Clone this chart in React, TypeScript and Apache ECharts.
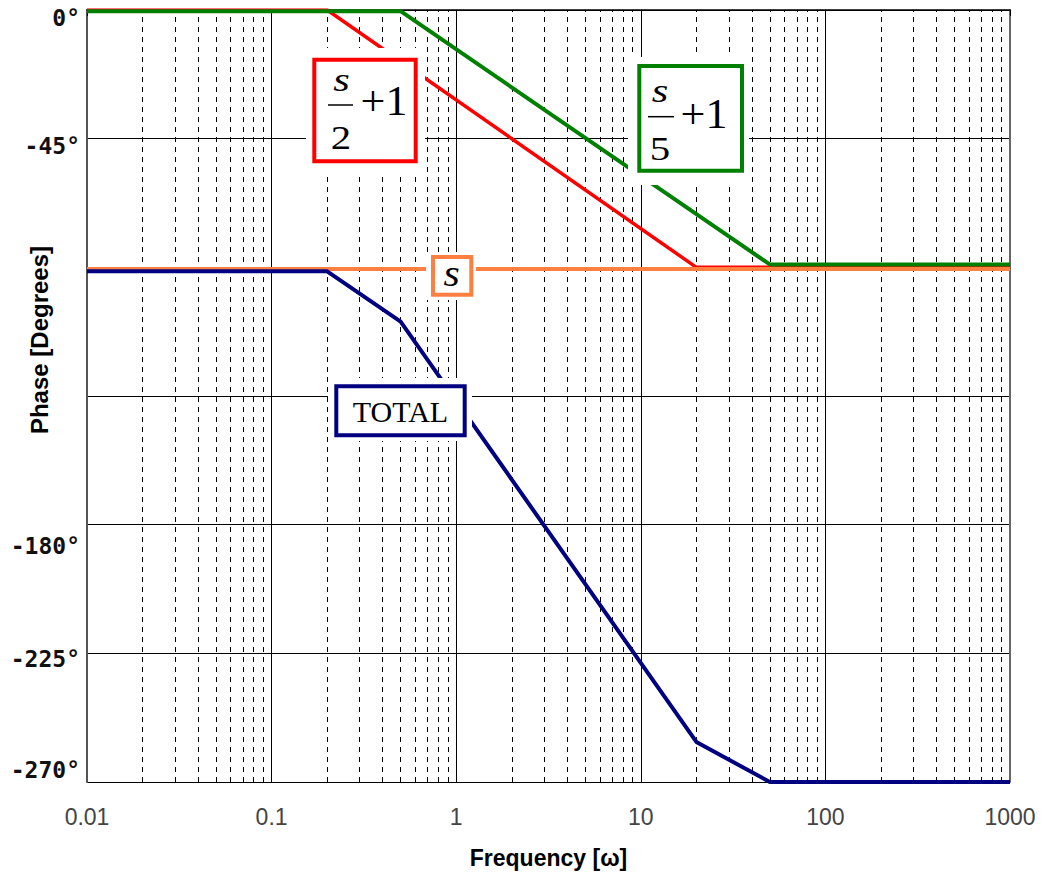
import React, { useEffect, useRef } from "react";
import * as echarts from "echarts";

// ---- data ----
const xTickValues = [0.01, 0.1, 1, 10, 100, 1000];
const xTickLabels = ["0.01", "0.1", "1", "10", "100", "1000"];
const yTickValues = [0, -45, -180, -225, -270];
const yTickLabels = ["0°", "-45°", "-180°", "-225°", "-270°"];
const minorDecades = [0.01, 0.1, 1, 10, 100];
const minorMultipliers = [2, 3, 4, 5, 6, 7, 8, 9];

const redFreq = [0.01, 0.2, 20, 1000];
const redPhase = [0, 0, -90, -90];
const greenFreq = [0.01, 0.5, 50, 1000];
const greenPhase = [-0.4, -0.4, -89, -89];
const orangeFreq = [0.01, 1000];
const orangePhase = [-90.6, -90.6];
const totalFreq = [0.01, 0.2, 0.5, 20, 50, 1000];
const totalPhase = [-91.4, -91.4, -109, -256, -270, -270];

// label vertical shifts (style)
const yLabelShift = [8, 7.5, 21.5, 6, -12];

const zip = (xs: number[], ys: number[]) => xs.map((x, i) => [x, ys[i]]);
const same = (a: number, b: number) => Math.abs(Math.log10(a) - Math.log10(b)) < 1e-6;

export default function App() {
  const ref = useRef<HTMLDivElement>(null);
  useEffect(() => {
    if (!ref.current) return;
    const chart = echarts.init(ref.current, null, { renderer: "svg" });
    const minorLines: any[] = [];
    minorDecades.forEach((d) => minorMultipliers.forEach((m) => minorLines.push({ xAxis: d * m })));

    const rich: any = {};
    yTickValues.forEach((v, i) => {
      const s = yLabelShift[i];
      rich["t" + i] = {
        fontFamily: "DejaVu Sans Mono",
        fontWeight: "bold",
        fontSize: 23,
        color: "#111",
        padding: s >= 0 ? [2 * s, 0, 0, 0] : [0, 0, -2 * s, 0],
      };
    });

    const serif = "Liberation Serif";
    const txt = (x: number, y: number, text: string, font: string, sx = 1) => ({
      type: "text",
      z: 102,
      x,
      y,
      scaleX: sx,
      style: { text, font, fill: "#000", textAlign: "center", textVerticalAlign: "middle" },
    });
    const graphics: any[] = [
      // red box s/2+1
      { type: "rect", z: 100, shape: { x: 306, y: 48, width: 119, height: 124 }, style: { fill: "#fff" } },
      { type: "rect", z: 101, shape: { x: 314.3, y: 59.7, width: 101.4, height: 101.6 }, style: { fill: "#fff", stroke: "#ff0000", lineWidth: 4 } },
      txt(341.5, 80, "s", `italic 34px ${serif}`, 1.25),
      { type: "line", z: 102, shape: { x1: 328, y1: 105, x2: 353, y2: 105 }, style: { stroke: "#000", lineWidth: 1.5 } },
      txt(341, 138, "2", `34px ${serif}`, 1.2),
      txt(384, 101, "+1", `42px ${serif}`, 1.05),
      // green box s/5+1
      { type: "rect", z: 100, shape: { x: 628, y: 57, width: 121, height: 128 }, style: { fill: "#fff" } },
      { type: "rect", z: 101, shape: { x: 639.3, y: 66, width: 102.7, height: 104.7 }, style: { fill: "#fff", stroke: "#008000", lineWidth: 4 } },
      txt(660, 91, "s", `italic 34px ${serif}`, 1.25),
      { type: "line", z: 102, shape: { x1: 648, y1: 116.7, x2: 674, y2: 116.7 }, style: { stroke: "#000", lineWidth: 1.5 } },
      txt(660, 149, "5", `34px ${serif}`, 1.2),
      txt(704, 114, "+1", `42px ${serif}`, 1.05),
      // orange box s
      { type: "rect", z: 100, shape: { x: 426, y: 252, width: 50, height: 48 }, style: { fill: "#fff" } },
      { type: "rect", z: 101, shape: { x: 433, y: 257, width: 38.3, height: 37.7 }, style: { fill: "#fff", stroke: "#ff7f40", lineWidth: 4 } },
      txt(451.7, 273, "s", `italic 38px ${serif}`, 1.1),
      // navy box TOTAL
      { type: "rect", z: 100, shape: { x: 328, y: 378, width: 144, height: 63 }, style: { fill: "#fff" } },
      { type: "rect", z: 101, shape: { x: 336.3, y: 386.3, width: 128.4, height: 49 }, style: { fill: "#fff", stroke: "#000080", lineWidth: 4 } },
      txt(400.5, 411, "TOTAL", `30px ${serif}`),
    ];

    chart.setOption({
      animation: false,
      backgroundColor: "#fff",
      grid: { left: 87, top: 10, right: 31, bottom: 98, containLabel: false, outerBoundsMode: "none" },
      xAxis: {
        type: "log",
        logBase: 10,
        min: 0.01,
        max: 1000,
        name: "Frequency [ω]",
        nameLocation: "middle",
        nameGap: 64,
        nameTextStyle: { fontFamily: "Liberation Sans", fontWeight: "bold", fontSize: 23, color: "#000" },
        axisLine: { show: true, lineStyle: { color: "#000", width: 1.5 } },
        axisTick: { show: true, length: 6, lineStyle: { color: "#000", width: 1 } },
        axisLabel: {
          margin: 23,
          fontFamily: "Liberation Sans",
          fontSize: 23,
          color: "#444",
          formatter: (v: number) => {
            const i = xTickValues.findIndex((t) => same(t, v));
            return i >= 0 ? xTickLabels[i] : "";
          },
        },
        splitLine: { show: true, lineStyle: { color: "#000", width: 1 } },
      },
      yAxis: [
        {
          type: "value",
          min: -270,
          max: 0,
          interval: 45,
          position: "left",
          name: "Phase [Degrees]",
          nameLocation: "middle",
          nameGap: 36,
          nameRotate: 90,
          nameMoveOverlap: false,
          nameTextStyle: {
            fontFamily: "Liberation Sans",
            fontWeight: "bold",
            fontSize: 24,
            color: "#000",
            padding: [0, 0, 0, 112],
          },
          axisLine: { show: true, lineStyle: { color: "#555", width: 2 } },
          axisTick: { show: false },
          splitLine: { show: true, lineStyle: { color: "#000", width: 1 } },
          axisLabel: {
            margin: 7,
            fontFamily: "DejaVu Sans Mono",
            fontWeight: "bold",
            fontSize: 23,
            color: "#111",
            rich,
            formatter: (v: number) => {
              const i = yTickValues.findIndex((t) => Math.abs(t - v) < 1e-6);
              return i >= 0 ? `{t${i}|${yTickLabels[i]}}` : "";
            },
          },
        },
        {
          type: "value",
          min: -270,
          max: 0,
          interval: 45,
          position: "right",
          axisLine: { show: true, lineStyle: { color: "#666", width: 2 } },
          axisTick: { show: false },
          axisLabel: { show: false },
          splitLine: { show: false },
        },
      ],
      series: [
        {
          type: "line",
          name: "s/2+1",
          z: 2,
          data: zip(redFreq, redPhase),
          symbol: "none",
          lineStyle: { color: "#ff0000", width: 3.5 },
          itemStyle: { color: "#ff0000" },
          silent: true,
          markLine: {
            z: 1,
            silent: true,
            symbol: ["none", "none"],
            label: { show: false },
            lineStyle: { color: "#000", width: 1, type: [5, 5] },
            emphasis: { disabled: true },
            data: minorLines,
          },
        },
        {
          type: "line",
          name: "s/5+1",
          z: 3,
          data: zip(greenFreq, greenPhase),
          symbol: "none",
          lineStyle: { color: "#008000", width: 4 },
          silent: true,
        },
        {
          type: "line",
          name: "s",
          z: 4,
          data: zip(orangeFreq, orangePhase),
          symbol: "none",
          lineStyle: { color: "#ff7f40", width: 4 },
          silent: true,
        },
        {
          type: "line",
          name: "TOTAL",
          z: 5,
          data: zip(totalFreq, totalPhase),
          symbol: "none",
          lineStyle: { color: "#000080", width: 4 },
          silent: true,
        },
      ],
      graphic: graphics,
    });
    return () => chart.dispose();
  }, []);
  return (
    <div
      ref={ref}
      style={{ position: "absolute", left: 0, top: 0, width: 1041, height: 880, background: "#fff" }}
    />
  );
}
